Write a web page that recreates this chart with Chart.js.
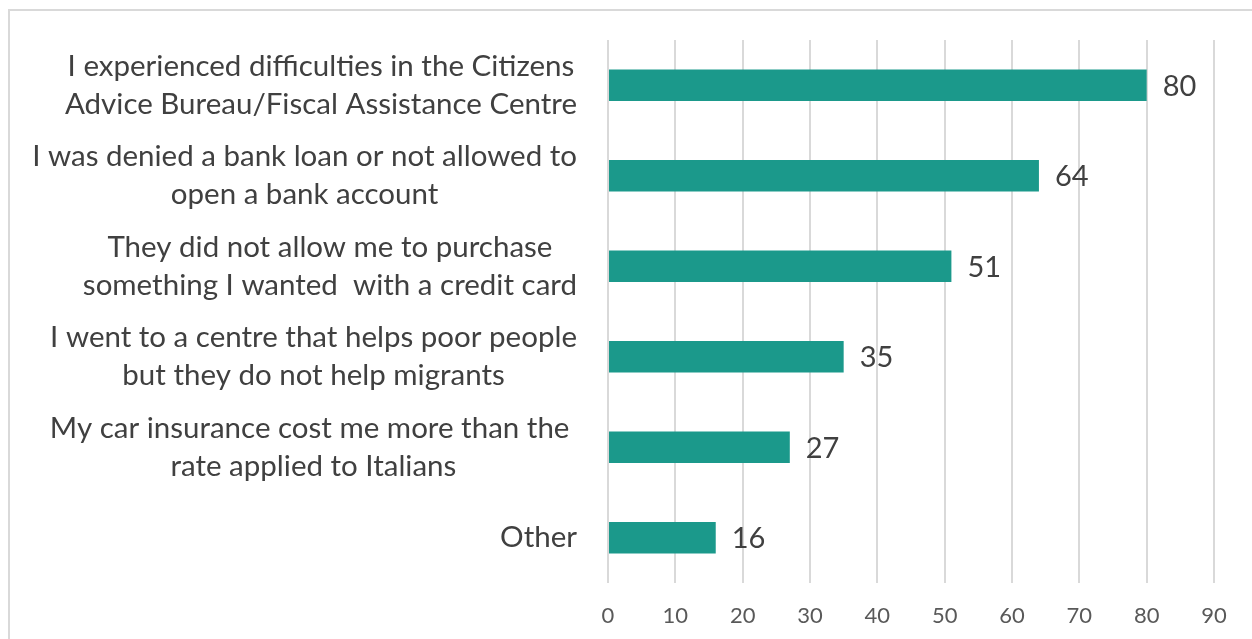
<!DOCTYPE html>
<html>
<head>
<meta charset="utf-8">
<script src="https://cdn.jsdelivr.net/npm/chart.js@4"></script>
<style>
  html, body { margin: 0; padding: 0; background: #fff; }
  #wrap { position: relative; width: 1252px; height: 639px; overflow: hidden; }
  #marco { position: absolute; left: 8px; top: 9px; width: 1400px; height: 800px; border: 2px solid #d9d9d9; }
  #grafico { position: absolute; left: 0; top: 0; }
</style>
</head>
<body>
<div id="wrap">
  <div id="marco"></div>
  <canvas id="grafico" width="1252" height="639"></canvas>
</div>
<script>
// categorías (cada línea es un renglón de la etiqueta)
const categorias = [
    ["I experienced difficulties in the Citizens", "Advice Bureau/Fiscal Assistance Centre"],
    ["I was denied a bank loan or not allowed to", "open a bank account"],
    ["They did not allow me to purchase", "something I wanted  with a credit card"],
    ["I went to a centre that helps poor people", "but they do not help migrants"],
    ["My car insurance cost me more than the ", "rate applied to Italians"],
    ["Other"]
];
const valores = [80, 64, 51, 35, 27, 16];
const ejeMax = 90;
const ejePaso = 10;

const fuente = "Lato, 'Open Sans', sans-serif";
const colorTexto = "#404040";

// etiquetas del eje Y: bloque alineado a la derecha, renglones centrados
const etiquetasY = {
    id: "etiquetasY",
    afterDraw(chart) {
        const ctx = chart.ctx;
        const escala = chart.scales.y;
        const borde = chart.chartArea.left - 31;
        const alto = 38;
        ctx.save();
        ctx.font = "29.5px " + fuente;
        ctx.fillStyle = colorTexto;
        ctx.textAlign = "center";
        ctx.textBaseline = "middle";
        categorias.forEach((lineas, i) => {
            const y = escala.getPixelForTick(i);
            const ancho = Math.max(...lineas.map(l => ctx.measureText(l).width));
            const cx = borde - ancho / 2;
            lineas.forEach((l, j) => {
                ctx.fillText(l, cx, y + (j - (lineas.length - 1) / 2) * alto);
            });
        });
        ctx.restore();
    }
};

// valores al final de cada barra
const etiquetasValor = {
    id: "etiquetasValor",
    afterDatasetsDraw(chart) {
        const ctx = chart.ctx;
        const meta = chart.getDatasetMeta(0);
        ctx.save();
        ctx.font = "29px " + fuente;
        ctx.fillStyle = colorTexto;
        ctx.textAlign = "left";
        ctx.textBaseline = "middle";
        meta.data.forEach((barra, i) => {
            ctx.fillText(String(valores[i]), barra.x + 16, barra.y + 1);
        });
        ctx.restore();
    }
};

new Chart(document.getElementById("grafico").getContext("2d"), {
    type: "bar",
    data: {
        labels: categorias,
        datasets: [{
            data: valores,
            backgroundColor: "#1b998b",
            borderWidth: 0,
            categoryPercentage: 1,
            barPercentage: 0.35
        }]
    },
    options: {
        indexAxis: "y",
        responsive: false,
        animation: false,
        devicePixelRatio: 1,
        layout: { padding: { left: 0, top: 40, right: 38, bottom: 0 } },
        plugins: {
            legend: { display: false },
            tooltip: { enabled: false }
        },
        scales: {
            x: {
                min: 0,
                max: ejeMax,
                border: { display: false },
                grid: { color: "#d9d9d9", lineWidth: 2, drawTicks: false },
                ticks: {
                    stepSize: ejePaso,
                    padding: 20,
                    color: "#595959",
                    font: { family: fuente, size: 22 }
                },
                afterFit: escala => { escala.height = 56; }
            },
            y: {
                border: { display: false },
                grid: { display: false },
                ticks: { display: false },
                afterFit: escala => { escala.width = 608; }
            }
        }
    },
    plugins: [etiquetasY, etiquetasValor]
});
</script>
</body>
</html>
